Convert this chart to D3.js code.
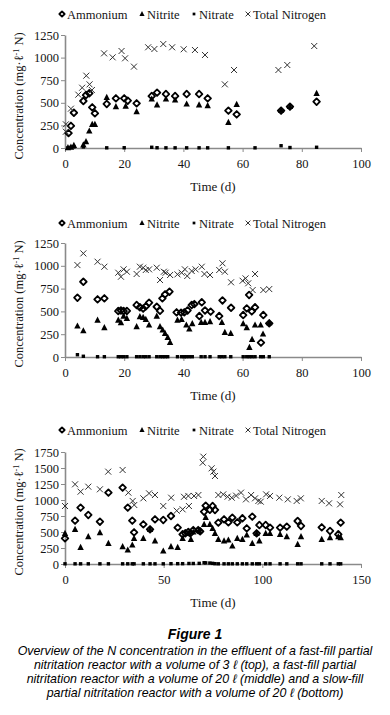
<!DOCTYPE html>
<html>
<head>
<meta charset="utf-8">
<script src="https://cdn.jsdelivr.net/npm/d3@7"></script>
<style>
  body { margin: 0; background: #fff; }
  svg { display: block; }
  .serif { font-family: 'Liberation Serif', 'Times New Roman', serif; }
  .sans { font-family: 'Liberation Sans', Arial, sans-serif; }
</style>
</head>
<body>
<svg id="chart" width="390" height="715"></svg>
<script>
// series names and legend
var seriesNames = ["Ammonium", "Nitrite", "Nitrate", "Total Nitrogen"];

// ---- top panel: fast-fill, 3 l ----
var topAmmonium = [[1.2,165],[2,245],[3,390],[6.2,520],[7.1,586],[8.2,605],[9.2,450],[10.1,384],[14.1,487],[17.2,549],[20,549],[21.2,523],[24.2,494],[29.3,575],[31.1,612],[34.1,597],[37.2,575],[41.1,597],[45.3,597],[48.2,549],[55.2,413],[58,372],[73,413],[76,457],[85,512]];
var topNitrite = [[1,5],[2,10],[3,28],[6.2,35],[7.1,70],[8.2,188],[9.2,262],[10.1,262],[14.1,560],[17.2,457],[20.5,464],[24.2,402],[29.3,542],[31.1,476],[34.1,542],[37.2,531],[41.1,487],[45.3,476],[48.2,468],[55.2,284],[58,483],[73,418],[76,460],[85,605]];
var topNitrate = [[1,3],[2,8],[3,12],[6.2,12],[14.1,2],[20,3],[29.3,8],[31.1,3],[34.1,2],[37.2,2],[41.1,2],[45.3,2],[48.2,2],[55.2,2],[64.2,2],[73,25],[76,5],[85,8]];
var topTN = [[0.3,180],[0.3,262],[2,435],[4.5,590],[5.8,667],[7.2,800],[8.3,704],[9.1,641],[13.2,1047],[16.1,1003],[19.1,1073],[20.3,992],[23.3,900],[28.1,1114],[30.2,1095],[33.2,1150],[36.2,1114],[40.1,1092],[43.9,1084],[47.3,1029],[54,704],[57.1,863],[72.1,863],[75.1,918],[84.2,1128]];

// ---- middle panel: fast-fill, 20 l ----
var midAmmonium = [[4.2,650],[6.2,825],[11,632],[13.3,643],[18,504],[18.9,510],[19.8,504],[20.9,505],[24.2,570],[25.3,545],[26.4,530],[27.3,555],[28.4,595],[31,551],[32.1,507],[32.9,643],[33.8,687],[35.3,716],[37.7,490],[39.2,486],[40.3,490],[41.4,510],[42.8,570],[43.7,580],[45.4,449],[46.2,600],[47.3,510],[49.2,497],[52.1,449],[53.2,620],[56.1,540],[60.2,460],[61.4,533],[62.2,680],[63.1,500],[64.2,545],[66.2,157],[67,460],[69,369]];
var midNitrite = [[4.2,340],[6.2,288],[11,405],[13.3,321],[18,405],[18.9,376],[19.8,449],[20.9,424],[24.2,332],[25.3,442],[26.4,435],[27.3,413],[28.4,351],[31,449],[32.1,332],[33,296],[33.8,260],[34.7,216],[35.5,161],[38,405],[39.4,413],[41,351],[42,307],[43,365],[46,380],[47.3,380],[49,387],[53,380],[54,270],[56,260],[60.2,365],[61.4,321],[62.3,106],[63.2,194],[64.2,351],[66.1,351],[66.9,252],[69,376]];
var midNitrate = [[4.2,25],[6.2,8],[11,3],[13.3,3],[18,3],[18.9,3],[19.8,3],[20.9,3],[24.2,3],[25.3,3],[26.4,3],[27.3,3],[28.4,3],[31,3],[32.1,3],[33,3],[33.8,3],[34.7,3],[38,3],[39.4,3],[40.3,3],[41,3],[42,3],[43,3],[46,3],[47.3,3],[49,3],[52.1,3],[53,3],[54,3],[56,3],[60.2,3],[61.4,3],[62.3,3],[63.2,3],[64.2,3],[66.1,3],[67,3],[69,3]];
var midTN = [[4.2,1008],[6.2,1136],[11,1045],[13.3,990],[18,924],[18.9,880],[19.8,961],[20.9,935],[24.2,910],[25.3,990],[26.4,979],[27.3,954],[28.4,961],[31,979],[32.1,844],[33.4,935],[34,924],[35.5,899],[38,906],[39.4,924],[40.5,961],[41.3,888],[42.8,943],[44.1,961],[46.2,990],[47.1,910],[49,899],[52.1,954],[53.2,1027],[54,935],[56.1,819],[60,836],[61,862],[61.9,808],[63.4,734],[64.2,910],[67,734],[69,745]];

// ---- bottom panel: slow-fill, 20 l ----
var botAmmonium = [[0,401],[5.1,677],[7.9,880],[11.8,766],[17.7,661],[22,1115],[29.2,1193],[31.8,880],[34.1,677],[35,495],[39.7,620],[43.1,542],[45.6,698],[49.8,688],[53.7,750],[57.1,568],[59.6,464],[61,480],[62.5,500],[63.5,480],[65,530],[67.5,530],[68.5,510],[70.5,817],[71.3,911],[73.4,846],[74.8,906],[76,844],[77.7,646],[80.6,698],[82.8,651],[84.8,724],[87.3,651],[89.9,714],[92.1,557],[94.9,740],[97.1,479],[98.5,609],[101.7,609],[103.9,568],[109,568],[112.4,583],[117.9,672],[119.6,594],[130.1,573],[134.3,516],[138.5,464],[139.7,646]];
var botNitrite = [[0,479],[5.1,542],[7.9,260],[11.8,427],[17.7,490],[22,323],[29.2,271],[31.8,219],[34.1,297],[35,401],[39.7,401],[43.1,542],[45.6,360],[49.8,203],[53.7,271],[57.1,260],[59.6,401],[62.8,479],[63.8,386],[65,500],[68,520],[70.5,620],[71.3,730],[73.4,620],[74.8,557],[76,479],[77.7,386],[80.6,360],[82.8,375],[84.8,281],[87.3,401],[89.9,386],[92.1,453],[94.9,323],[97.1,479],[98.5,360],[101.7,479],[103.9,479],[109,464],[112.4,427],[117.9,307],[119.6,427],[130.1,386],[134.3,412],[138.5,427],[139.7,412]];
var botNitrate = [[0,3],[5.1,3],[7.9,3],[11.8,3],[17.7,3],[22,3],[29.2,3],[31.8,3],[34.1,3],[35,3],[39.7,3],[43.1,3],[45.6,3],[49.8,3],[53.7,5],[57.1,5],[59.6,5],[62.8,8],[65,8],[68,10],[70.5,20],[71.3,18],[73.4,15],[74.8,10],[76,5],[77.7,3],[80.6,3],[82.8,3],[84.8,3],[87.3,3],[89.9,3],[92.1,3],[94.9,3],[97.1,3],[98.5,3],[101.7,3],[103.9,3],[109,3],[112.4,3],[117.9,3],[119.6,3],[130.1,3],[134.3,3],[138.5,3],[139.7,3]];
var botTN = [[0,906],[5.1,1245],[7.9,1130],[11.8,1208],[17.7,1167],[21.9,1443],[29.2,1469],[32.1,1115],[34.3,985],[35.1,922],[39.7,1026],[42.6,1104],[45.6,1078],[49.8,906],[53.8,1036],[56.6,833],[59.6,854],[60.3,1050],[62.5,1063],[62.8,906],[65.4,1063],[67.6,1078],[69.8,1583],[70.1,1677],[74.3,1495],[75.2,1443],[76,1375],[77.7,1078],[80.2,1088],[82.4,1052],[84.5,1036],[86.7,1068],[89.2,1115],[91.7,1010],[94.3,1078],[96.3,1026],[98,985],[99.2,974],[101.9,1088],[103.9,1063],[108.6,1036],[112.9,1010],[117.4,985],[119.5,1026],[130.1,985],[133.8,948],[139.4,932],[140,1078]];

// axis ticks
var topYTicks = [0, 250, 500, 750, 1000, 1250];
var topXTicks = [0, 20, 40, 60, 80, 100];
var botYTicks = [0, 250, 500, 750, 1000, 1250, 1500, 1750];
var botXTicks = [0, 50, 100, 150];

var captionTitle = "Figure 1";
var captionLines = [
  "Overview of the N concentration in the effluent of a fast-fill partial",
  "nitritation reactor with a volume of 3 \u2113 (top), a fast-fill partial",
  "nitritation reactor with a volume of 20 \u2113 (middle) and a slow-fill",
  "partial nitritation reactor with a volume of 20 \u2113 (bottom)"
];

var svg = d3.select('#chart');
var axisColor = '#8a8a8a';
var textColor = '#141414';

function diamondPath(s) {
  return 'M0,' + (-s) + 'L' + s + ',0L0,' + s + 'L' + (-s) + ',0Z';
}

// draws one marker of a series type at the origin of group g
function marker(g, type, legend) {
  var k = legend ? 0.8 : 1;
  if (type === 0) {
    g.append('path').attr('d', diamondPath(3.3 * k))
      .attr('fill', 'none').attr('stroke', '#000')
      .attr('stroke-width', 1.8).attr('stroke-linejoin', 'round');
  } else if (type === 1) {
    g.append('path').attr('d', 'M0,' + (-3.6 * k) + 'L' + (3.2 * k) + ',' + (2.6 * k) + 'L' + (-3.2 * k) + ',' + (2.6 * k) + 'Z')
      .attr('fill', '#000');
  } else if (type === 2) {
    var s = 3.4 * k;
    g.append('rect').attr('x', -s / 2).attr('y', -s / 2).attr('width', s).attr('height', s)
      .attr('fill', '#000');
  } else {
    var a = 3 * k;
    g.append('path').attr('d', 'M' + (-a) + ',' + (-a) + 'L' + a + ',' + a + 'M' + (-a) + ',' + a + 'L' + a + ',' + (-a))
      .attr('stroke', '#333').attr('stroke-width', 1).attr('fill', 'none');
  }
}

function drawPanel(cfg) {
  var x = d3.scaleLinear().domain(cfg.xDomain).range([65, 361]);
  var y = d3.scaleLinear().domain(cfg.yDomain).range(cfg.yRange);
  var g = svg.append('g');

  // legend
  var legendX = [62, 142, 194, 248];
  seriesNames.forEach(function(name, i) {
    var lg = g.append('g').attr('transform', 'translate(' + legendX[i] + ',' + cfg.legendY + ')');
    marker(lg, i, true);
    lg.append('text').attr('class', 'serif').attr('x', 5).attr('y', 4.5)
      .attr('font-size', 12.5).attr('fill', textColor)
      .text(name);
  });

  // axes
  var yAxis = g.append('g').attr('transform', 'translate(65,0)')
    .call(d3.axisLeft(y).tickValues(cfg.yTicks).tickFormat(d3.format('d'))
      .tickSize(4).tickPadding(2).tickSizeOuter(0));
  var xAxis = g.append('g').attr('transform', 'translate(0,' + cfg.yRange[0] + ')')
    .call(d3.axisBottom(x).tickValues(cfg.xTicks).tickFormat(d3.format('d'))
      .tickSize(4).tickPadding(7).tickSizeOuter(0));
  [xAxis, yAxis].forEach(function(ax) {
    ax.attr('font-family', null);
    ax.selectAll('path.domain').attr('stroke', axisColor).attr('stroke-width', 1.6);
    ax.selectAll('.tick line').attr('stroke', axisColor).attr('stroke-width', 1);
    ax.selectAll('text').attr('class', 'serif').attr('font-size', 12.5).attr('fill', textColor);
  });

  // axis titles
  g.append('text').attr('class', 'serif').attr('x', 213).attr('y', cfg.titleY)
    .attr('text-anchor', 'middle').attr('font-size', 13).attr('fill', textColor)
    .text('Time (d)');
  var yt = g.append('text').attr('class', 'serif')
    .attr('transform', 'translate(23,' + cfg.yTitleY + ') rotate(-90)')
    .attr('text-anchor', 'middle').attr('font-size', 12.5).attr('fill', textColor);
  yt.append('tspan').text('Concentration (mg\u00b7\u2113');
  yt.append('tspan').attr('font-size', 8).attr('dy', -4).text('-1');
  yt.append('tspan').attr('dy', 4).text(' N)');

  // series
  cfg.series.forEach(function(data, i) {
    g.append('g').selectAll('g').data(data).enter().append('g')
      .attr('transform', function(d) { return 'translate(' + x(d[0]) + ',' + y(d[1]) + ')'; })
      .each(function() { marker(d3.select(this), i, false); });
  });
}

drawPanel({
  xDomain: [0, 100], yDomain: [0, 1250], yRange: [148, 35],
  xTicks: topXTicks, yTicks: topYTicks,
  legendY: 14, titleY: 191, yTitleY: 96,
  series: [topAmmonium, topNitrite, topNitrate, topTN]
});
drawPanel({
  xDomain: [0, 100], yDomain: [0, 1250], yRange: [357, 243],
  xTicks: topXTicks, yTicks: topYTicks,
  legendY: 223, titleY: 400, yTitleY: 304,
  series: [midAmmonium, midNitrite, midNitrate, midTN]
});
drawPanel({
  xDomain: [0, 150], yDomain: [0, 1750], yRange: [564, 452],
  xTicks: botXTicks, yTicks: botYTicks,
  legendY: 430, titleY: 607, yTitleY: 512,
  series: [botAmmonium, botNitrite, botNitrate, botTN]
});

// caption
svg.append('text').attr('class', 'sans').attr('x', 195).attr('y', 639)
  .attr('text-anchor', 'middle').attr('font-size', 14)
  .attr('font-weight', 'bold').attr('font-style', 'italic').attr('fill', '#000')
  .text(captionTitle);
svg.selectAll('text.cap').data(captionLines).enter().append('text')
  .attr('class', 'cap sans')
  .attr('x', 195).attr('y', function(d, i) { return 654.5 + i * 14.3; })
  .attr('text-anchor', 'middle').attr('font-size', 12.4)
  .attr('font-style', 'italic').attr('fill', '#000')
  .text(function(d) { return d; });
</script>
</body>
</html>
